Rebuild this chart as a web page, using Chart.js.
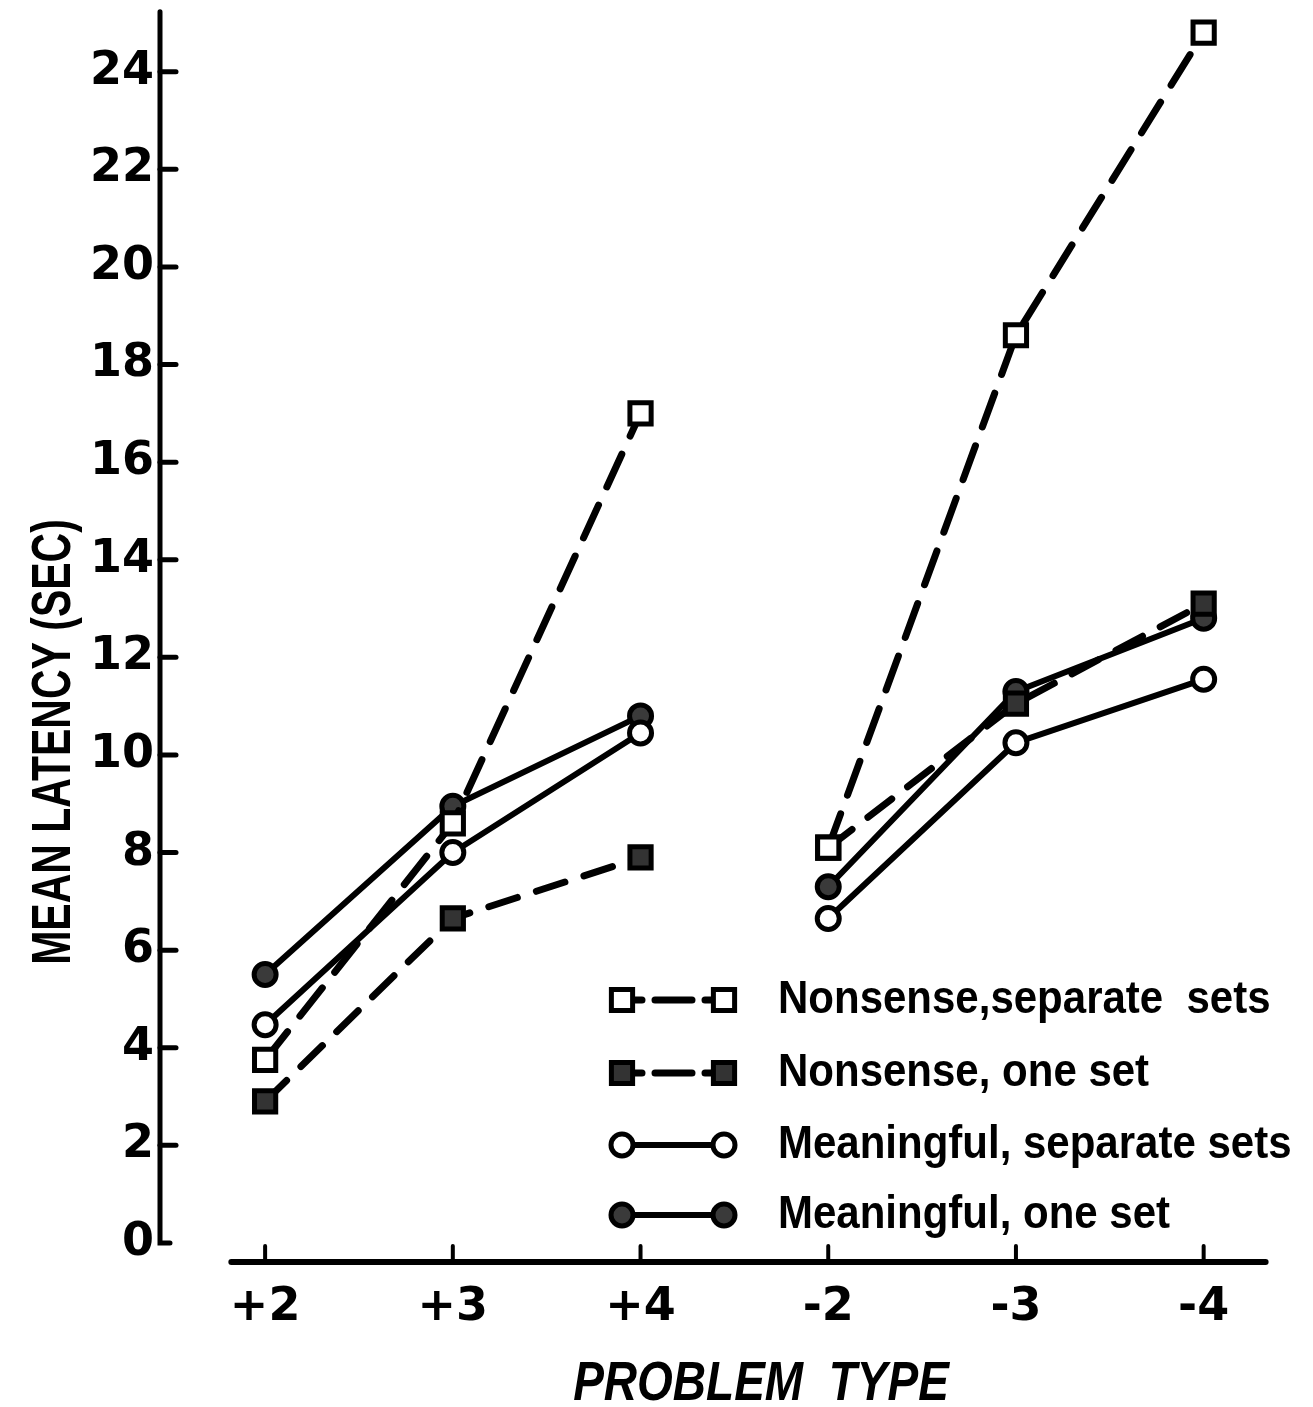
<!DOCTYPE html>
<html>
<head>
<meta charset="utf-8">
<script src="https://cdn.jsdelivr.net/npm/chart.js@4/dist/chart.umd.min.js"></script>
<style>
  html, body { margin: 0; background: #fff; }
  #wrap { width: 1313px; height: 1407px; }
</style>
</head>
<body>
<div id="wrap"><canvas id="chart" width="1313" height="1407"></canvas></div>
<script>
// Mean latency by problem type
const categories = ['+2', '+3', '+4', '-2', '-3', '-4'];
const yTicks = [0, 2, 4, 6, 8, 10, 12, 14, 16, 18, 20, 22, 24];

const nonsenseSeparate   = [3.75, 8.6, 17.0, 8.1, 18.6, 24.8];
const nonsenseOne        = [2.9, 6.65, 7.9, 8.1, 11.05, 13.1];
const meaningfulSeparate = [4.47, 8.0, 10.45, 6.65, 10.25, 11.55];
const meaningfulOne      = [5.5, 8.95, 10.8, 7.3, 11.3, 12.8];

const legendLabels = [
  'Nonsense,separate  sets',
  'Nonsense, one set',
  'Meaningful, separate sets',
  'Meaningful, one set'
];

// the two problem groups are not joined
const BREAK_AFTER = 2;

const X_MIN = -0.56, X_MAX = 5.46;
const Y_MIN = -0.39, Y_MAX = 25.06;
const Y_AXIS_TOP = 25.23;
const TICK_FONT = { family: "'DejaVu Sans', sans-serif", size: 46, weight: 'bold' };

function toPoints(vals) {
  return vals.map(function(v, i) { return { x: i, y: v }; });
}

const series = [
  { label: legendLabels[0], data: nonsenseSeparate,   dash: [36, 20], width: 7, style: 'rect',   radius: 15, fill: '#fff' },
  { label: legendLabels[1], data: nonsenseOne,        dash: [30, 20], width: 7, style: 'rect',   radius: 15, fill: '#333' },
  { label: legendLabels[2], data: meaningfulSeparate, dash: [],       width: 6, style: 'circle', radius: 11, fill: '#fff' },
  { label: legendLabels[3], data: meaningfulOne,      dash: [],       width: 6, style: 'circle', radius: 11, fill: '#3a3a3a' }
];

const datasets = series.map(function(s) {
  return {
    label: s.label,
    data: toPoints(s.data),
    borderColor: '#000',
    borderWidth: s.width,
    borderDash: s.dash,
    borderCapStyle: 'round',
    pointStyle: s.style,
    pointRadius: s.radius,
    pointBorderWidth: 5,
    pointBackgroundColor: s.fill,
    pointBorderColor: '#000',
    tension: 0,
    clip: false,
    segment: {
      borderColor: function(ctx) { return ctx.p0DataIndex === BREAK_AFTER ? 'rgba(0,0,0,0)' : undefined; }
    }
  };
});

// axis lines with inward ticks, titles and legend
const paperPlugin = {
  id: 'paper',
  beforeDatasetsDraw(chart) {
    const { ctx, chartArea } = chart;
    const x = chart.scales.x, y = chart.scales.y;
    ctx.save();
    ctx.strokeStyle = '#000';
    ctx.lineCap = 'round';

    // y axis
    const y0 = y.getPixelForValue(0);
    ctx.lineWidth = 5;
    ctx.beginPath();
    ctx.moveTo(chartArea.left, y.getPixelForValue(Y_AXIS_TOP));
    ctx.lineTo(chartArea.left, y0);
    ctx.lineTo(chartArea.left + 10, y0);
    ctx.stroke();
    yTicks.forEach(function(v) {
      if (v === 0) return;
      const py = y.getPixelForValue(v);
      ctx.beginPath();
      ctx.moveTo(chartArea.left, py);
      ctx.lineTo(chartArea.left + 16, py);
      ctx.stroke();
    });

    // x axis, detached from the y axis
    const yb = chartArea.bottom;
    ctx.lineWidth = 6;
    ctx.beginPath();
    ctx.moveTo(x.getPixelForValue(-0.18), yb);
    ctx.lineTo(x.getPixelForValue(5.33), yb);
    ctx.stroke();
    ctx.lineWidth = 4;
    categories.forEach(function(c, i) {
      const px = x.getPixelForValue(i);
      ctx.beginPath();
      ctx.moveTo(px, yb);
      ctx.lineTo(px, yb - 16);
      ctx.stroke();
    });
    ctx.restore();
  },
  afterDraw(chart) {
    const ctx = chart.ctx;
    ctx.save();
    ctx.fillStyle = '#000';

    // y title
    ctx.save();
    ctx.translate(55, 742);
    ctx.rotate(-Math.PI / 2);
    ctx.scale(1, 1.36);
    ctx.font = "bold 41px 'Liberation Sans', sans-serif";
    ctx.textAlign = 'center';
    ctx.textBaseline = 'middle';
    ctx.fillText('MEAN LATENCY (SEC)', 0, 0);
    ctx.restore();

    // x title
    ctx.save();
    ctx.translate(761, 1385);
    ctx.scale(1, 1.2);
    ctx.font = "italic bold 46px 'Liberation Sans', sans-serif";
    ctx.textAlign = 'center';
    ctx.textBaseline = 'middle';
    ctx.fillText('PROBLEM  TYPE', 0, 0);
    ctx.restore();

    // legend
    const rows = [1000, 1073, 1145, 1215];
    const x1 = 622, x2 = 724, tx = 778;
    chart.data.datasets.forEach(function(ds, i) {
      const ry = rows[i];
      ctx.strokeStyle = '#000';
      ctx.lineCap = 'round';
      ctx.lineWidth = ds.borderWidth;
      ctx.setLineDash(ds.borderDash.length ? [20, 13, 37, 13, 40] : []);
      ctx.beginPath();
      ctx.moveTo(x1, ry);
      ctx.lineTo(x2, ry);
      ctx.stroke();
      ctx.setLineDash([]);
      [x1, x2].forEach(function(px) {
        ctx.fillStyle = ds.pointBackgroundColor;
        ctx.strokeStyle = '#000';
        ctx.lineWidth = ds.pointBorderWidth;
        Chart.helpers.drawPoint(ctx, {
          pointStyle: ds.pointStyle, rotation: 0, radius: ds.pointRadius, borderWidth: ds.pointBorderWidth
        }, px, ry);
      });
      ctx.save();
      ctx.translate(tx, ry);
      ctx.scale(1, 1.12);
      ctx.fillStyle = '#000';
      ctx.font = "bold 42px 'Liberation Sans', sans-serif";
      ctx.textAlign = 'left';
      ctx.textBaseline = 'middle';
      ctx.fillText(ds.label, 0, 0);
      ctx.restore();
    });
    ctx.restore();
  }
};

new Chart(document.getElementById('chart').getContext('2d'), {
  type: 'line',
  data: { datasets: datasets },
  options: {
    responsive: false,
    animation: false,
    layout: { padding: { top: 6, left: 0, right: 23, bottom: 0 } },
    plugins: { legend: { display: false }, tooltip: { enabled: false } },
    scales: {
      x: {
        type: 'linear',
        min: X_MIN,
        max: X_MAX,
        grid: { display: false, drawTicks: false },
        border: { display: false },
        afterBuildTicks: function(s) { s.ticks = categories.map(function(c, i) { return { value: i }; }); },
        afterFit: function(s) { s.height = 1407 - 1262; s.paddingLeft = 0; s.paddingRight = 0; },
        ticks: {
          color: '#000',
          font: TICK_FONT,
          padding: 18,
          maxRotation: 0,
          callback: function(v) { return categories[v]; }
        }
      },
      y: {
        min: Y_MIN,
        max: Y_MAX,
        grid: { display: false, drawTicks: false },
        border: { display: false },
        afterBuildTicks: function(s) { s.ticks = yTicks.map(function(v) { return { value: v }; }); },
        afterFit: function(s) { s.width = 160; s.paddingTop = 0; s.paddingBottom = 0; },
        ticks: {
          color: '#000',
          font: TICK_FONT,
          padding: 6
        }
      }
    }
  },
  plugins: [paperPlugin]
});
</script>
</body>
</html>
